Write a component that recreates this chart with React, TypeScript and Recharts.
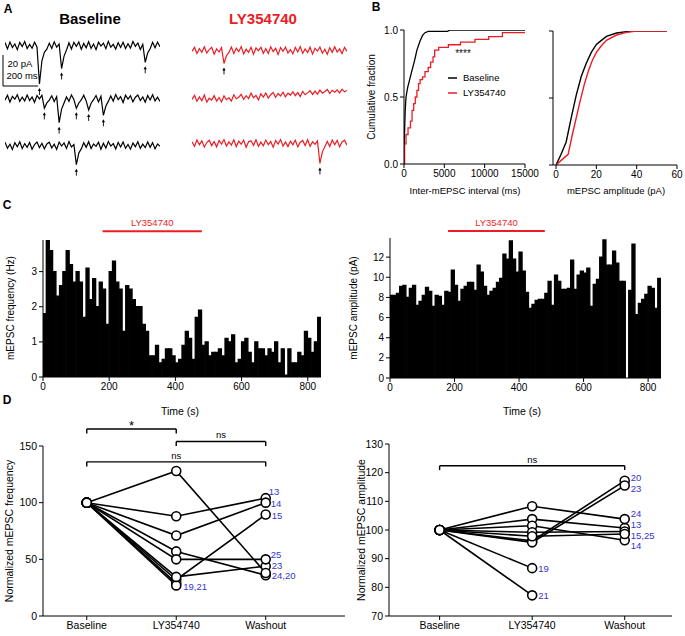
import React from 'react';
import {
  ComposedChart,
  LineChart,
  BarChart,
  Line,
  Bar,
  Scatter,
  XAxis,
  YAxis,
  ReferenceLine,
  ReferenceDot,
  Legend,
  LabelList,
} from 'recharts';

const RED = '#ec1c24';
const BLUE = '#3434d0';
const FONT = '"Liberation Sans", Arial, sans-serif';

// ---- A: example sweeps in pA, one sample every 14 ms
const SAMPLE_MS = 14;
const baselineSweep1 = [
  1.8, -2.3, 2.1, -1.4, 0.9, -2.8, 1.9, -0.8, 2.4, -2.1,
  0.6, -1.9, 2.0, -1.0, -25, -10, -4.5, -2.5, 1.4, -2.0,
  2.3, -1.2, 0.8, -15, -7, -3, 1.6, -2.4, 1.9, -0.6,
  2.2, -2.6, 1.2, -1.6, 2.3, -1.9, 0.8, -2.8, 2.0, -0.5,
  1.4, -2.2, 2.5, -1.2, 0.6, -2.4, 1.7, -1.4, 2.0, -2.1,
  1.0, -1.8, 2.4, -0.7, 1.5, -2.7, 0.6, -11, -5, -2.2,
  1.9, -1.6, 2.1, -0.9,
];
const baselineSweep2 = [
  -1.2, 2.0, -2.4, 1.3, -0.6, 2.3, -2.0, 0.8, -1.7, 2.1,
  -1.4, 0.9, -2.6, 1.8, -0.4, 2.0, -6.5, -3, -1.2, 1.6,
  -2.1, 1.1, -15.7, -7, -3, 0.9, -1.9, 2.2, -0.8, -6.5,
  -3, -1.1, 2.0, -1.7, -7.5, -3.2, -0.9, 1.8, -2.3, 1.3,
  -11, -5, -2.0, 1.5, -1.9, 2.4, -0.9, 1.1, -2.7, 2.0,
  -0.5, 1.7, -2.3, 0.7, 2.1, -1.5, 0.9, -2.5, 1.8, -1.1,
  2.3, -1.7, 0.7, -2.0,
];
const baselineSweep3 = [
  2.0, -1.9, 0.7, -2.7, 1.7, -0.9, 2.3, -2.1, 1.1, -1.3,
  1.8, -2.5, 0.5, 2.1, -1.5, 1.3, -2.3, 0.9, 2.0, -1.7,
  0.7, -2.6, 2.1, -0.5, 1.5, -2.0, 2.4, -1.1, 0.5, -12.5,
  -5, -2.3, 1.7, -1.3, 2.3, -2.1, 0.9, -0.7, 2.0, -2.6,
  1.3, -1.7, 2.4, -0.5, 1.1, -2.3, 1.8, -1.1, 2.1, -1.9,
  0.5, -2.5, 1.5, -0.9, 2.3, -2.0, 0.7, -1.5, 2.1, -1.3,
  1.7, -2.3, 0.9, -0.7,
];
const drugSweep1 = [
  -0.7, 1.9, -2.1, 1.1, -1.3, 2.3, -1.7, 0.5, 2.0, -2.5,
  0.9, -1.1, 1.7, -8.5, -3.5, -1.4, 2.1, -2.0, 1.3, -0.9,
  2.4, -2.3, 0.7, -1.3, 1.9, -2.6, 1.5, -0.3, 2.0, -1.9,
  1.1, -2.1, 2.3, -0.9, 1.3, -2.8, 1.7, -0.7, 2.1, -1.7,
  0.5, -2.3, 1.9, -1.1, 2.4, -2.0, 0.9, -1.5, 2.0, -2.5,
  1.3, -0.5, 2.1, -1.9, 0.7, -2.6, 1.7, -1.3, 2.3, -1.1,
  0.9, -2.1, 1.9, -0.7,
];
const drugSweep2 = [
  -2.0, 0.6, -3.2, -0.4, -2.8, 0.9, -3.8, -1.2, -2.4, 0.4,
  -3.1, -0.8, -3.6, 0.3, -2.2, -1.0, -3.0, 1.0, -1.6, -0.6,
  1.2, -2.0, 0.4, -1.5, 2.0, -0.9, 0.6, -2.3, 1.6, -0.5,
  2.1, -1.2, 1.0, 2.5, -0.6, 1.8, 0.2, 2.7, -0.4, 2.0,
  0.8, 2.9, 0.4, 2.4, -0.2, 3.1, 1.0, 2.2, 3.6, 1.2,
  3.4, 1.4, 4.0, 2.0, 3.1, 4.4, 1.8, 3.9, 2.7, 4.2,
  2.2, 4.6, 2.9, 3.8,
];
const drugSweep3 = [
  1.0, -2.0, 2.1, -0.9, 1.6, -2.5, 0.5, 2.0, -1.5, 1.2,
  -2.3, 1.8, -0.5, 2.4, -1.8, 0.9, -1.1, 2.3, -2.1, 1.4,
  -0.6, 2.0, -2.6, 1.0, 1.6, -1.3, 2.3, -2.0, 0.7, -1.6,
  2.1, -0.9, 1.2, -2.5, 1.8, -0.5, 2.4, -1.8, 0.9, -2.1,
  1.4, -1.0, 2.0, -2.3, 0.7, 1.8, -1.4, 2.3, -2.0, 1.0,
  -0.7, 1.6, -13, -5.5, -2.2, 1.2, -2.0, 2.1, -1.0, 1.8,
  -2.3, 0.9, 2.0, -1.2,
];
// sample indices of the marked events
const baselineEvents1 = [14, 23, 57];
const baselineEvents2 = [16, 22, 29, 34, 40];
const baselineEvents3 = [29];
const drugEvents1 = [13];
const drugEvents2: number[] = [];
const drugEvents3 = [52];
const SCALE_PA = 20;
const SCALE_MS = 200;

// ---- B: cumulative distributions
const intervalBaseMs = [0, 60, 150, 250, 450, 700, 1000, 1300, 1600, 2000, 2300, 2600, 3000, 5400, 5700, 15000];
const intervalBaseFrac = [0, 0.22, 0.4, 0.5, 0.57, 0.63, 0.7, 0.77, 0.85, 0.92, 0.96, 0.98, 0.99, 0.99, 1, 1];
const intervalDrugMs = [0, 80, 250, 500, 800, 1000, 1200, 1400, 1600, 1800, 2000, 2300, 2600, 3000, 3300, 3600, 3800, 4300, 5500, 7000, 8800, 10500, 12200, 15000];
const intervalDrugFrac = [0, 0.15, 0.22, 0.27, 0.32, 0.4, 0.45, 0.5, 0.55, 0.6, 0.63, 0.65, 0.69, 0.72, 0.76, 0.8, 0.85, 0.87, 0.89, 0.91, 0.93, 0.95, 0.98, 0.98];
const ampBasePa = [0, 2.5, 5, 7.5, 10, 12.5, 15, 17.5, 20, 22.5, 25, 30, 35, 40, 55];
const ampBaseFrac = [0, 0.08, 0.17, 0.35, 0.52, 0.66, 0.76, 0.84, 0.9, 0.93, 0.96, 0.985, 0.995, 1, 1];
const ampDrugPa = [0, 3, 6, 8, 10, 12, 14, 16, 18, 20, 22.5, 25, 30, 35, 40, 55];
const ampDrugFrac = [0, 0.04, 0.08, 0.22, 0.35, 0.48, 0.6, 0.7, 0.78, 0.84, 0.89, 0.93, 0.97, 0.99, 1, 1];
const intervalTicks = [0, 5000, 10000, 15000];
const ampTicks = [0, 20, 40, 60];

// ---- C: 10 s bins over 840 s
const BIN_S = 10;
const freqBins = [
  1.8, 3.9, 3.6, 3.0, 2.3, 2.6, 3.0, 3.6, 3.2, 2.7,
  3.0, 2.7, 1.7, 3.1, 2.2, 2.8, 2.0, 2.7, 2.5, 1.5,
  3.0, 3.3, 2.7, 2.5, 1.3, 2.6, 2.5, 2.2, 2.0, 2.0,
  1.5, 1.3, 0.6, 0.6, 0.9, 0.4, 0.5, 0.8, 0.8, 0.6,
  0.4, 0.5, 0.9, 1.3, 1.1, 0.5, 1.7, 1.9, 0.9, 1.0,
  0.6, 0.7, 0.7, 0.8, 0.6, 1.1, 1.0, 1.2, 0.4, 0.5,
  1.0, 1.1, 0.7, 0.4, 1.0, 0.8, 0.8, 0.6, 0.8, 0.7,
  1.0, 0.4, 0.8, 0.05, 0.8, 0.4, 0.4, 0.7, 0.6, 1.3,
  1.1, 0.7, 1.0, 1.7,
];
const ampBins = [
  8.2, 8.2, 8.4, 9.1, 9.2, 8.0, 8.9, 9.2, 7.2, 7.6,
  8.2, 9.0, 8.6, 7.1, 8.2, 8.1, 7.2, 8.6, 8.5, 10.7,
  9.2, 7.6, 8.8, 9.1, 9.5, 9.5, 8.7, 11.2, 10.5, 9.1,
  8.2, 8.6, 8.9, 9.5, 9.9, 12.3, 11.8, 13.6, 11.8, 10.5,
  12.5, 10.6, 8.5, 6.9, 7.3, 7.7, 7.8, 7.8, 8.4, 9.6,
  7.2, 10.2, 9.6, 8.8, 8.8, 8.9, 11.7, 8.8, 10.2, 10.6,
  10.4, 10.9, 7.1, 9.3, 9.8, 12.0, 13.7, 11.2, 11.2, 12.6,
  11.4, 9.6, 9.6, 0, 8.7, 13.3, 6.3, 7.4, 7.8, 8.3,
  9.1, 8.9, 6.9, 9.9,
];
const timeTicks = [0, 200, 400, 600, 800];
const drugOnS = 180;
const drugOffS = 480;

// ---- D: normalized values per cell (% of baseline)
const conditions = ['Baseline', 'LY354740', 'Washout'];
const cellIds = ['13', '14', '15', '19', '20', '21', '23', '24', '25'];
const freqBaseline = [100, 100, 100, 100, 100, 100, 100, 100, 100];
const freqDrug = [88, 71, 32, 29, 57, 27, 34.5, 128, 50];
const freqWashout = [104, 100, 89.5, null, 36, null, 44, 38, 50];
const ampBaseline = [100, 100, 100, 100, 100, 100, 100, 100, 100];
const ampDrug = [103.8, 101.5, 99.2, 86.7, 96.2, 77.2, 95.7, 108.3, 97.8];
const ampWashout = [100.7, 96.4, 99.5, null, 117.2, null, 115.5, 103.8, 98.6];
const freqLabels: Record<string, string> = { '13': '13', '14': '14', '15': '15', '19': '19,21', '23': '23', '24': '24,20', '25': '25' };
const ampLabels: Record<string, string> = { '13': '13', '14': '14', '15': '15,25', '19': '19', '20': '20', '21': '21', '23': '23', '24': '24' };
const freqBrackets = [
  { from: 1, to: 2, y: 165, text: '*' },
  { from: 2, to: 3, y: 154, text: 'ns' },
  { from: 1, to: 3, y: 136, text: 'ns' },
];
const ampBrackets = [{ from: 1, to: 3, y: 122.4, text: 'ns' }];

// label nudges (px) next to the last point of a cell
const freqNudge: Record<string, [number, number]> = {
  '13': [3, -7], '14': [5, 1], '15': [6, 1], '19': [7, 3], '23': [6, -1], '24': [6, 3], '25': [5, -5],
};
const ampNudge: Record<string, [number, number]> = {
  '13': [6, -3], '14': [6, 5], '15': [6, 4], '19': [6, 0], '20': [6, -3], '21': [6, 0], '23': [6, 3], '24': [6, -6],
};

const axisStroke = { stroke: '#000', strokeWidth: 1 };
const tickFont = { fontSize: 10, fill: '#000', fontFamily: FONT };

const Txt = ({ x, y, size = 10, weight = 400, color = '#000', rotate = 0, children }: any) => (
  <div
    style={{
      position: 'absolute',
      left: x,
      top: y,
      transform: `translate(-50%, -50%) rotate(${rotate}deg)`,
      fontSize: size,
      fontWeight: weight,
      color,
      whiteSpace: 'nowrap',
      lineHeight: 1,
      fontFamily: FONT,
    }}
  >
    {children}
  </div>
);

// ---- A helpers
const PX_PER_PA = 1.55;
const PA_TOP = 6;
const PA_BOTTOM = -33;
const SWEEP_W = 155;

const ArrowMark = (props: any) => {
  const { cx, cy } = props;
  if (cx == null || cy == null) return <g />;
  const y0 = cy + 4;
  return (
    <g>
      <line x1={cx} y1={y0 + 2} x2={cx} y2={y0 + 7} stroke="#000" strokeWidth={0.9} />
      <path d={`M${cx - 1.6},${y0 + 3} L${cx},${y0} L${cx + 1.6},${y0 + 3} Z`} fill="#000" />
    </g>
  );
};

function Sweep({ values, events, color, left, baseY }: { values: number[]; events: number[]; color: string; left: number; baseY: number }) {
  const data = values.map((v, i) => ({ t: i * SAMPLE_MS, v }));
  const marks = events.map((i) => data[i]);
  const h = (PA_TOP - PA_BOTTOM) * PX_PER_PA;
  return (
    <div style={{ position: 'absolute', left, top: baseY - PA_TOP * PX_PER_PA }}>
      <ComposedChart width={SWEEP_W} height={h} margin={{ top: 0, right: 0, bottom: 0, left: 0 }}>
        <XAxis type="number" dataKey="t" domain={[0, (values.length - 1) * SAMPLE_MS]} hide height={0} />
        <YAxis type="number" dataKey="v" domain={[PA_BOTTOM, PA_TOP]} allowDataOverflow hide width={0} />
        <Line data={data} dataKey="v" type="linear" stroke={color} strokeWidth={1.2} dot={false} activeDot={false} isAnimationActive={false} />
        <Scatter data={marks} dataKey="v" shape={ArrowMark} isAnimationActive={false} />
      </ComposedChart>
    </div>
  );
}

// ---- B helpers
const zipXY = (xs: number[], ys: number[]) => xs.map((x, i) => ({ x, y: ys[i] }));

const CdfLegend = (props: any) => {
  const payload = props.payload || [];
  return (
    <div style={{ fontSize: 9.5, fontFamily: FONT, lineHeight: '15px', color: '#000' }}>
      {payload.map((p: any) => (
        <div key={p.value} style={{ display: 'flex', alignItems: 'center' }}>
          <svg width={10} height={6}>
            <line x1={0} y1={3} x2={9} y2={3} stroke={p.color} strokeWidth={1.5} />
          </svg>
          <span style={{ marginLeft: 5 }}>{p.value}</span>
        </div>
      ))}
    </div>
  );
};

// ---- C helper
function Histogram({ bins, left, top, width, height, yAxisWidth, plotTop, yMax, yTicks, drugY }: any) {
  // each bar sits on the centre of its 10 s bin
  const data = bins.map((v: number, i: number) => ({ t: i * BIN_S + BIN_S / 2, v }));
  const span = bins.length * BIN_S;
  return (
    <div style={{ position: 'absolute', left, top }}>
      <BarChart width={width} height={height} data={data} margin={{ top: plotTop, right: 10, bottom: 0, left: 0 }} barCategoryGap={0} barGap={0}>
        <XAxis
          type="number"
          dataKey="t"
          domain={[0, span]}
          ticks={timeTicks}
          allowDataOverflow
          height={26}
          tick={tickFont}
          tickSize={4}
          axisLine={axisStroke}
          tickLine={axisStroke}
        />
        <YAxis
          type="number"
          domain={[0, yMax]}
          ticks={yTicks}
          allowDataOverflow
          width={yAxisWidth}
          tick={tickFont}
          tickSize={4}
          axisLine={axisStroke}
          tickLine={axisStroke}
        />
        <Bar dataKey="v" fill="#000" stroke="#000" strokeWidth={1.3} isAnimationActive={false} />
        <ReferenceLine
          segment={[{ x: drugOnS, y: drugY }, { x: drugOffS, y: drugY }]}
          stroke={RED}
          strokeWidth={2}
          ifOverflow="visible"
        />
        <ReferenceDot
          x={(drugOnS + drugOffS) / 2}
          y={drugY}
          r={0}
          fill="none"
          stroke="none"
          ifOverflow="visible"
          label={{ value: 'LY354740', position: 'top', offset: 5, fill: RED, fontSize: 9.5, fontFamily: FONT }}
        />
      </BarChart>
    </div>
  );
}

// ---- D helper
const OpenCircle = (props: any) => {
  const { cx, cy } = props;
  if (cx == null || cy == null) return <g />;
  return <circle cx={cx} cy={cy} r={4.5} fill="#fff" stroke="#000" strokeWidth={1.6} />;
};

function Paired({ left, top, width, height, plotTop, yAxisWidth, xDomain, yDomain, yTicks, base, drug, wash, labels, nudge, brackets, leg }: any) {
  const series = cellIds.map((id, i) => {
    const pts = [
      { c: 1, y: base[i] },
      { c: 2, y: drug[i] },
    ];
    if (wash[i] != null) pts.push({ c: 3, y: wash[i] });
    return { id, pts };
  });
  const allPts = series.flatMap((s) => s.pts);
  return (
    <div style={{ position: 'absolute', left, top }}>
      <ComposedChart width={width} height={height} margin={{ top: plotTop, right: 0, bottom: 0, left: 0 }}>
        <XAxis
          type="number"
          dataKey="c"
          domain={xDomain}
          ticks={[1, 2, 3]}
          tickFormatter={(v: number) => conditions[v - 1]}
          allowDataOverflow
          height={20}
          tick={{ ...tickFont, fontSize: 10.5 }}
          tickSize={4}
          axisLine={axisStroke}
          tickLine={axisStroke}
        />
        <YAxis
          type="number"
          dataKey="y"
          domain={yDomain}
          ticks={yTicks}
          allowDataOverflow
          width={yAxisWidth}
          tick={{ ...tickFont, fontSize: 10.5 }}
          tickSize={4}
          axisLine={axisStroke}
          tickLine={axisStroke}
        />
        {brackets.flatMap((b: any, k: number) => [
          <ReferenceLine key={`h${k}`} segment={[{ x: b.from, y: b.y }, { x: b.to, y: b.y }]} stroke="#000" strokeWidth={1.4} ifOverflow="visible" />,
          <ReferenceLine key={`l${k}`} segment={[{ x: b.from, y: b.y }, { x: b.from, y: b.y - leg }]} stroke="#000" strokeWidth={1.4} ifOverflow="visible" />,
          <ReferenceLine key={`r${k}`} segment={[{ x: b.to, y: b.y }, { x: b.to, y: b.y - leg }]} stroke="#000" strokeWidth={1.4} ifOverflow="visible" />,
          <ReferenceDot
            key={`t${k}`}
            x={(b.from + b.to) / 2}
            y={b.y}
            r={0}
            fill="none"
            stroke="none"
            ifOverflow="visible"
            label={{ value: b.text, position: 'top', offset: b.text === '*' ? -1 : 3, fill: '#000', fontSize: b.text === '*' ? 13 : 9.5, fontFamily: FONT }}
          />,
        ])}
        {series.map((s) => (
          <Line
            key={s.id}
            data={s.pts}
            dataKey="y"
            type="linear"
            stroke="#000"
            strokeWidth={1.6}
            dot={false}
            activeDot={false}
            isAnimationActive={false}
          >
            <LabelList
              dataKey="y"
              content={(p: any) => {
                const text = labels[s.id];
                if (!text || p.index !== s.pts.length - 1) return null;
                const [dx, dy] = nudge[s.id] || [6, 0];
                return (
                  <text x={p.x + dx} y={p.y + dy} fill={BLUE} fontSize={9.5} fontFamily={FONT} dominantBaseline="central">
                    {text}
                  </text>
                );
              }}
            />
          </Line>
        ))}
        <Scatter data={allPts} dataKey="y" shape={OpenCircle} isAnimationActive={false} />
      </ComposedChart>
    </div>
  );
}

export default function App() {
  const intervalBaseCdf = zipXY(intervalBaseMs, intervalBaseFrac);
  const intervalDrugCdf = zipXY(intervalDrugMs, intervalDrugFrac);
  const ampBaseCdf = zipXY(ampBasePa, ampBaseFrac);
  const ampDrugCdf = zipXY(ampDrugPa, ampDrugFrac);
  const scaleBarData = [
    { ms: 0, pa: 0 },
    { ms: SCALE_MS, pa: SCALE_PA },
  ];

  return (
    <div style={{ position: 'absolute', left: 0, top: 0, width: 685, height: 636, background: '#fff', fontFamily: FONT, overflow: 'hidden' }}>
      {/* panel letters */}
      <Txt x={8} y={9} size={12} weight={700}>A</Txt>
      <Txt x={376} y={7} size={12} weight={700}>B</Txt>
      <Txt x={7} y={205} size={12} weight={700}>C</Txt>
      <Txt x={7} y={400} size={12} weight={700}>D</Txt>

      {/* A */}
      <Txt x={90} y={18} size={15} weight={700}>Baseline</Txt>
      <Txt x={263} y={18} size={15} weight={700} color={RED}>LY354740</Txt>
      <Sweep values={baselineSweep1} events={baselineEvents1} color="#000" left={5} baseY={45} />
      <Sweep values={baselineSweep2} events={baselineEvents2} color="#000" left={5} baseY={98} />
      <Sweep values={baselineSweep3} events={baselineEvents3} color="#000" left={5} baseY={145} />
      <Sweep values={drugSweep1} events={drugEvents1} color={RED} left={192} baseY={50} />
      <Sweep values={drugSweep2} events={drugEvents2} color={RED} left={192} baseY={96} />
      <Sweep values={drugSweep3} events={drugEvents3} color={RED} left={192} baseY={143} />
      <div style={{ position: 'absolute', left: 0, top: 52 }}>
        <ComposedChart width={41} height={37} data={scaleBarData} margin={{ top: 3, right: 3, bottom: 3, left: 3 }}>
          <XAxis type="number" dataKey="ms" domain={[0, SCALE_MS]} hide height={0} />
          <YAxis type="number" dataKey="pa" domain={[0, SCALE_PA]} hide width={0} />
          <Line dataKey="pa" stroke="none" dot={false} activeDot={false} isAnimationActive={false} />
          <ReferenceLine segment={[{ x: 0, y: 0 }, { x: 0, y: SCALE_PA }]} stroke="#000" ifOverflow="visible" />
          <ReferenceLine segment={[{ x: 0, y: 0 }, { x: SCALE_MS, y: 0 }]} stroke="#000" ifOverflow="visible" />
        </ComposedChart>
      </div>
      <Txt x={20} y={64} size={9.5}>{`${SCALE_PA} pA`}</Txt>
      <Txt x={22} y={76} size={9.5}>{`${SCALE_MS} ms`}</Txt>

      {/* B left */}
      <div style={{ position: 'absolute', left: 340, top: 20 }}>
        <LineChart width={205} height={176} margin={{ top: 10, right: 20, bottom: 0, left: 0 }}>
          <XAxis
            type="number"
            dataKey="x"
            domain={[0, 15000]}
            ticks={intervalTicks}
            allowDataOverflow
            height={32}
            tick={tickFont}
            tickSize={4}
            axisLine={axisStroke}
            tickLine={axisStroke}
          />
          <YAxis
            type="number"
            dataKey="y"
            domain={[0, 1]}
            ticks={[0, 0.5, 1]}
            tickFormatter={(v: number) => v.toFixed(1)}
            allowDataOverflow
            width={64}
            tick={tickFont}
            tickSize={4}
            axisLine={axisStroke}
            tickLine={axisStroke}
          />
          <Line data={intervalBaseCdf} dataKey="y" name="Baseline" type="linear" stroke="#000" strokeWidth={1.3} dot={false} activeDot={false} isAnimationActive={false} />
          <Line data={intervalDrugCdf} dataKey="y" name="LY354740" type="stepAfter" stroke={RED} strokeWidth={1.3} dot={false} activeDot={false} isAnimationActive={false} />
          <Legend layout="vertical" align="center" verticalAlign="middle" content={CdfLegend} wrapperStyle={{ left: 108, top: 50, width: 80 }} />
        </LineChart>
      </div>
      <Txt x={463} y={54} size={10} color="#111">****</Txt>
      <Txt x={465} y={191} size={9.5}>Inter-mEPSC interval (ms)</Txt>
      <Txt x={372} y={97} size={10} rotate={-90}>Cumulative fraction</Txt>

      {/* B right */}
      <div style={{ position: 'absolute', left: 540, top: 21 }}>
        <LineChart width={145} height={176} margin={{ top: 10, right: 8, bottom: 0, left: 0 }}>
          <XAxis
            type="number"
            dataKey="x"
            domain={[-1.5, 60]}
            ticks={ampTicks}
            allowDataOverflow
            height={32}
            tick={tickFont}
            tickSize={4}
            axisLine={axisStroke}
            tickLine={axisStroke}
          />
          <YAxis
            type="number"
            dataKey="y"
            domain={[0, 1]}
            ticks={[0, 0.5, 1]}
            tickFormatter={() => ''}
            allowDataOverflow
            width={13}
            tickSize={4}
            axisLine={axisStroke}
            tickLine={axisStroke}
          />
          <Line data={ampBaseCdf} dataKey="y" name="Baseline" type="linear" stroke="#000" strokeWidth={1.4} dot={false} activeDot={false} isAnimationActive={false} />
          <Line data={ampDrugCdf} dataKey="y" name="LY354740" type="linear" stroke={RED} strokeWidth={1.4} dot={false} activeDot={false} isAnimationActive={false} />
        </LineChart>
      </div>
      <Txt x={616} y={191} size={9.5}>mEPSC amplitude (pA)</Txt>

      {/* C */}
      <Histogram bins={freqBins} left={0} top={205} width={331} height={198} yAxisWidth={43} plotTop={35} yMax={3.9} yTicks={[0, 1, 2, 3]} drugY={4.15} />
      <Txt x={11} y={308} size={10} rotate={-90}>mEPSC frequency (Hz)</Txt>
      <Txt x={180} y={411} size={10.5}>Time (s)</Txt>
      <Histogram bins={ampBins} left={340} top={203} width={331} height={201} yAxisWidth={50} plotTop={35} yMax={13.9} yTicks={[0, 2, 4, 6, 8, 10, 12]} drugY={14.6} />
      <Txt x={354} y={308} size={10} rotate={-90}>mEPSC amplitude (pA)</Txt>
      <Txt x={522} y={411} size={10.5}>Time (s)</Txt>

      {/* D */}
      <Paired
        left={0}
        top={410}
        width={345}
        height={226}
        plotTop={36}
        yAxisWidth={43}
        xDomain={[0.511, 3.886]}
        yDomain={[0, 150]}
        yTicks={[0, 50, 100, 150]}
        base={freqBaseline}
        drug={freqDrug}
        wash={freqWashout}
        labels={freqLabels}
        nudge={freqNudge}
        brackets={freqBrackets}
        leg={4}
      />
      <Txt x={9} y={531} size={10.5} rotate={-90}>Normalized mEPSC frequency</Txt>
      <Paired
        left={340}
        top={410}
        width={332}
        height={226}
        plotTop={34}
        yAxisWidth={49}
        xDomain={[0.453, 3.511]}
        yDomain={[70, 130]}
        yTicks={[70, 80, 90, 100, 110, 120, 130]}
        base={ampBaseline}
        drug={ampDrug}
        wash={ampWashout}
        labels={ampLabels}
        nudge={ampNudge}
        brackets={ampBrackets}
        leg={1.5}
      />
      <Txt x={361} y={530} size={10.5} rotate={-90}>Normalized mEPSC amplitude</Txt>
    </div>
  );
}
